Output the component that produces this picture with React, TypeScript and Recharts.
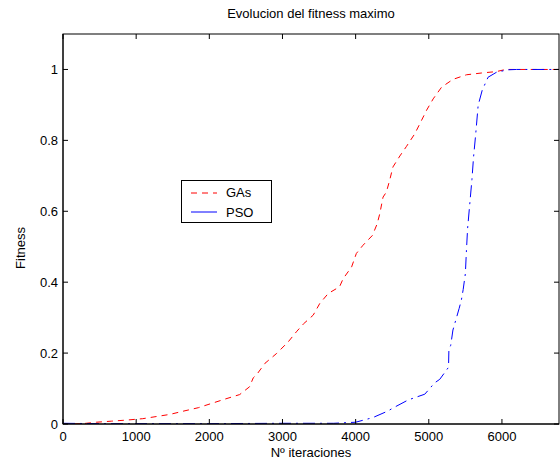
import { LineChart, Line, XAxis, YAxis } from "recharts";

const gaX = [0, 270, 455, 660, 865, 1090, 1275, 1460, 1640, 1850, 2030, 2210, 2415, 2550, 2600, 2650, 2760, 2920, 3080, 3190, 3285, 3420, 3510, 3625, 3780, 3830, 3945, 4010, 4100, 4230, 4295, 4330, 4375, 4420, 4465, 4510, 4605, 4695, 4810, 4900, 4970, 5060, 5175, 5330, 5515, 5720, 5925, 6050, 6780];
const gaY = [0, 0.001, 0.005, 0.008, 0.011, 0.015, 0.021, 0.027, 0.036, 0.046, 0.058, 0.07, 0.083, 0.105, 0.13, 0.14, 0.171, 0.199, 0.232, 0.26, 0.282, 0.307, 0.34, 0.368, 0.387, 0.41, 0.443, 0.481, 0.504, 0.532, 0.565, 0.593, 0.64, 0.654, 0.687, 0.725, 0.756, 0.783, 0.819, 0.856, 0.885, 0.917, 0.95, 0.972, 0.985, 0.99, 0.994, 1, 1];

const psoX = [0, 500, 1000, 2000, 3000, 3500, 3700, 4000, 4235, 4445, 4510, 4720, 4945, 5080, 5150, 5270, 5275, 5300, 5330, 5415, 5445, 5470, 5500, 5515, 5530, 5560, 5590, 5612, 5642, 5675, 5730, 5810, 5925, 6080, 6200, 6780];
const psoY = [0.002, 0.001, 0.001, 0.001, 0.002, 0.002, 0.002, 0.005, 0.018, 0.037, 0.045, 0.068, 0.084, 0.116, 0.126, 0.16, 0.21, 0.222, 0.265, 0.326, 0.349, 0.379, 0.424, 0.49, 0.55, 0.62, 0.69, 0.753, 0.819, 0.899, 0.941, 0.978, 0.992, 0.999, 1, 1];

const xTicks = [0, 1000, 2000, 3000, 4000, 5000, 6000];
const yTicks = [0, 0.2, 0.4, 0.6, 0.8, 1];
const xMax = 6780;
const yMax = 1.1;

const gaData = gaX.map((x, i) => ({ x, y: gaY[i] }));
const psoData = psoX.map((x, i) => ({ x, y: psoY[i] }));

const font = "'Liberation Sans', Arial, sans-serif";

// plot box (matches chart margins + axis sizes below)
const L = 63, T = 34, W = 496, H = 390;
const sx = (v: number) => L + (v / xMax) * W;
const sy = (v: number) => T + H - (v / yMax) * H;

const BottomTick = ({ x, y, payload }: any) => (
    <g>
        <line x1={x} x2={x} y1={y} y2={y - 5} stroke="#000" />
        <text x={x} y={y + 17} textAnchor="middle" fontSize={13} fontFamily={font} fill="#000">{payload.value}</text>
    </g>
);
const LeftTick = ({ x, y, payload }: any) => (
    <g>
        <line x1={x} x2={x + 5} y1={y} y2={y} stroke="#000" />
        <text x={x - 5} y={y + 5} textAnchor="end" fontSize={13} fontFamily={font} fill="#000">{payload.value}</text>
    </g>
);

// box outline with the mirrored top / right tick marks
const Frame = () => (
    <svg width={560} height={464} style={{ position: "absolute", left: 0, top: 0, pointerEvents: "none" }}>
        <rect x={L} y={T} width={W} height={H} fill="none" stroke="#000" />
        {xTicks.map((v) => (
            <line key={"t" + v} x1={sx(v)} x2={sx(v)} y1={T} y2={T + 5} stroke="#000" />
        ))}
        {yTicks.map((v) => (
            <line key={"r" + v} x1={L + W} x2={L + W - 5} y1={sy(v)} y2={sy(v)} stroke="#000" />
        ))}
    </svg>
);

// legend drawn as an overlay so it does not shrink the plot area
const LegendBox = () => (
    <div style={{ position: "absolute", left: 181, top: 180, border: "1px solid #000", background: "#fff", width: 89, height: 41, fontFamily: font, fontSize: 13 }}>
        <div style={{ display: "flex", alignItems: "center", height: 20, marginTop: 1 }}>
            <svg width={44} height={20}><line x1={9} x2={35} y1={11} y2={11} stroke="#ff0000" strokeDasharray="6 5" /></svg>
            <span>GAs</span>
        </div>
        <div style={{ display: "flex", alignItems: "center", height: 20 }}>
            <svg width={44} height={20}><line x1={9} x2={35} y1={10} y2={10} stroke="#0000ff" /></svg>
            <span>PSO</span>
        </div>
    </div>
);

export default function App() {
    return (
        <div style={{ position: "absolute", left: 0, top: 0, width: 560, height: 464, background: "#fff" }}>
            <div style={{ position: "absolute", left: 63, width: 496, top: 6, textAlign: "center", fontFamily: font, fontSize: 13 }}>
                Evolucion del fitness maximo
            </div>
            <div style={{ position: "absolute", left: 63, width: 496, top: 445, textAlign: "center", fontFamily: font, fontSize: 13 }}>
                Nº iteraciones
            </div>
            <div style={{ position: "absolute", left: 20, top: 248, transform: "translate(-50%, -50%) rotate(-90deg)", fontFamily: font, fontSize: 13 }}>
                Fitness
            </div>
            <LineChart width={560} height={464} margin={{ top: T, right: 560 - L - W, bottom: 15, left: 23 }}>
                <XAxis
                    dataKey="x"
                    type="number"
                    domain={[0, xMax]}
                    ticks={xTicks}
                    allowDataOverflow
                    height={25}
                    tickSize={0}
                    tickMargin={0}
                    tick={<BottomTick />}
                    axisLine={{ stroke: "#000" }}
                />
                <YAxis
                    type="number"
                    domain={[0, yMax]}
                    ticks={yTicks}
                    allowDataOverflow
                    width={40}
                    tickSize={0}
                    tickMargin={0}
                    tick={<LeftTick />}
                    axisLine={{ stroke: "#000" }}
                />
                <Line
                    data={gaData}
                    dataKey="y"
                    name="GAs"
                    type="linear"
                    stroke="#ff0000"
                    strokeWidth={1}
                    strokeDasharray="6 5"
                    dot={false}
                    isAnimationActive={false}
                />
                <Line
                    data={psoData}
                    dataKey="y"
                    name="PSO"
                    type="linear"
                    stroke="#0000ff"
                    strokeWidth={1}
                    strokeDasharray="12 5 2 5"
                    dot={false}
                    isAnimationActive={false}
                />
            </LineChart>
            <Frame />
            <LegendBox />
        </div>
    );
}
